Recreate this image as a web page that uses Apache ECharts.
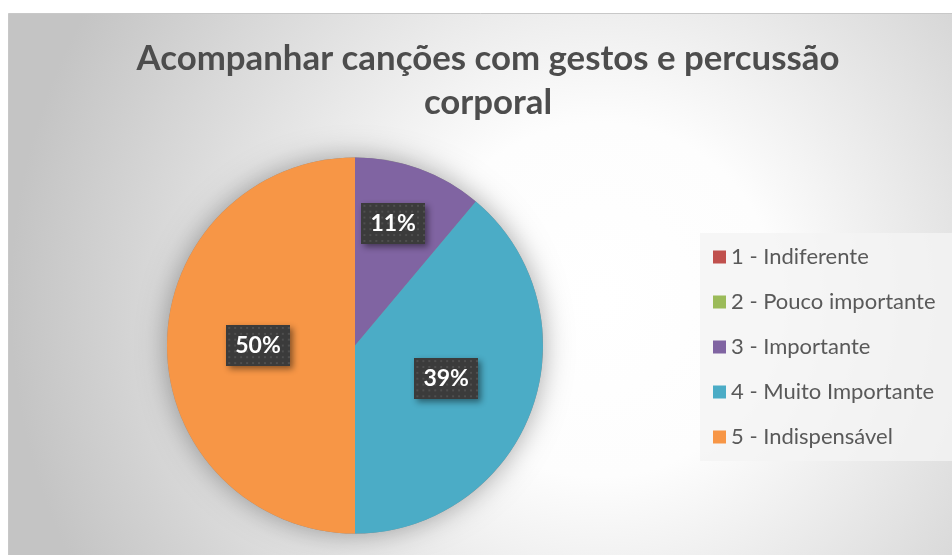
<!DOCTYPE html>
<html>
<head>
<meta charset="utf-8">
<script src="https://cdn.jsdelivr.net/npm/echarts@6/dist/echarts.min.js"></script>
<style>
  html, body { margin: 0; padding: 0; background: #fff; }
  #main { width: 952px; height: 555px; }
</style>
</head>
<body>
<div id="main"></div>
<script>
  // dados do gráfico
  const categories = [
    "1 - Indiferente",
    "2 - Pouco importante",
    "3 - Importante",
    "4 - Muito Importante",
    "5 - Indispensável",
  ];
  const counts = [0, 0, 2, 7, 9];
  const colors = ["#C0504D", "#9BBB59", "#8064A2", "#4BACC6", "#F79646"];
  const titleText = "Acompanhar canções com gestos e percussão\ncorporal";

  // textura pontilhada do rótulo
  const dots = document.createElement("canvas");
  dots.width = 64;
  dots.height = 42;
  const ctx = dots.getContext("2d");
  ctx.fillStyle = "#3b3b3b";
  ctx.fillRect(0, 0, dots.width, dots.height);
  ctx.fillStyle = "#4f4f4f";
  for (let y = 2; y < dots.height; y += 6) {
    for (let x = 2; x < dots.width; x += 6) {
      ctx.fillRect(x, y, 2, 2);
    }
  }

  const total = counts.reduce((a, b) => a + b, 0);
  let myChart = echarts.init(document.getElementById("main"));

  let option = {
    animation: false,
    graphic: [
      {
        type: "rect",
        z: 0,
        silent: true,
        shape: { x: 8.5, y: 13.5, width: 980, height: 560 },
        style: {
          fill: new echarts.graphic.RadialGradient(600, 300, 590, [
            { offset: 0, color: "#ffffff" },
            { offset: 0.3, color: "#fdfdfd" },
            { offset: 1, color: "#c4c4c4" },
          ], true),
          stroke: "#c8c8c8",
          lineWidth: 1,
        },
      },
    ],
    title: {
      text: titleText,
      left: 483,
      top: 32,
      textAlign: "center",
      textStyle: {
        fontFamily: "Lato",
        fontSize: 34.8,
        fontWeight: "bold",
        lineHeight: 44,
        color: "#4d4d4d",
      },
    },
    legend: {
      orient: "vertical",
      left: 700,
      top: 233,
      padding: [13, 20, 13, 13],
      backgroundColor: "rgba(244,244,244,0.8)",
      itemWidth: 13,
      itemHeight: 13,
      itemGap: 23,
      icon: "rect",
      data: categories,
      textStyle: {
        fontFamily: "Lato",
        fontSize: 22,
        lineHeight: 22,
        color: "#595959",
      },
    },
    series: [
      {
        // sombra do disco
        type: "pie",
        silent: true,
        z: 1,
        center: [355, 345.5],
        radius: 188,
        label: { show: false },
        labelLine: { show: false },
        itemStyle: {
          color: "#888",
          shadowBlur: 28,
          shadowColor: "rgba(0,0,0,0.35)",
        },
        data: [{ value: total, name: "_sombra" }],
      },
      {
        type: "pie",
        z: 2,
        center: [355, 345.5],
        radius: 188,
        startAngle: 90,
        clockwise: true,
        labelLine: { show: false },
        label: {
          show: true,
          position: "inside",
          formatter: (p) => Math.round(p.percent) + "%",
          fontFamily: "Lato",
          fontSize: 23,
          fontWeight: "bold",
          color: "#ffffff",
          backgroundColor: { image: dots },
          padding: [10, 9, 8, 9],
          shadowColor: "rgba(0,0,0,0.45)",
          shadowBlur: 6,
          shadowOffsetX: 3,
          shadowOffsetY: 3,
        },
        labelLayout: (p) => (p.dataIndex === 2 ? { dx: 5, dy: -31 } : {}),
        data: categories.map((name, i) => ({
          name: name,
          value: counts[i],
          itemStyle: { color: colors[i] },
          label: { show: counts[i] > 0 },
        })),
      },
    ],
  };

  myChart.setOption(option);
</script>
</body>
</html>
